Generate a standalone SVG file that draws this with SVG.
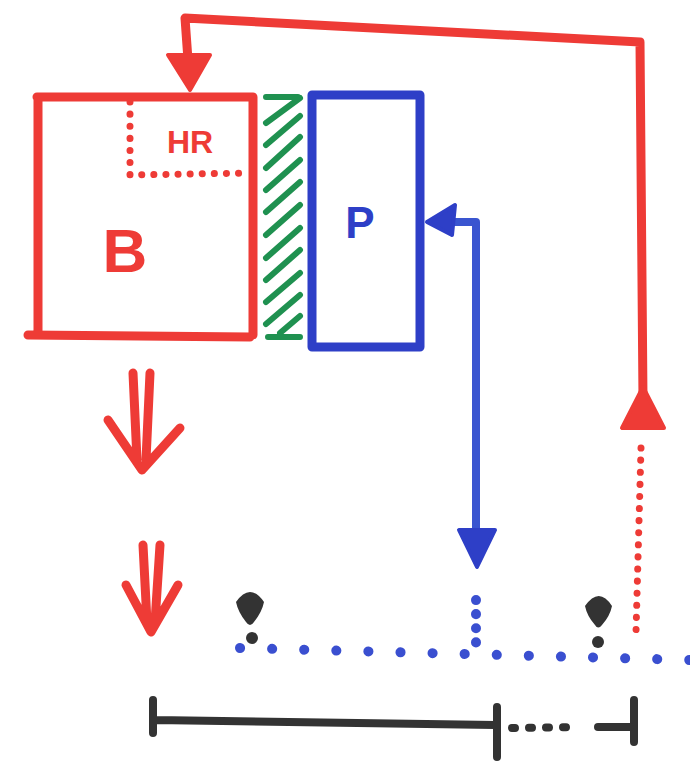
<svg xmlns="http://www.w3.org/2000/svg" width="690" height="762" viewBox="0 0 690 762">
<style>
.red{stroke:#ee3b36;fill:none;stroke-width:9;stroke-linecap:round;stroke-linejoin:round}
.blue{stroke:#2e3fc7;fill:none;stroke-width:9;stroke-linecap:round;stroke-linejoin:round}
.green{stroke:#1f9150;fill:none;stroke-width:6;stroke-linecap:round}
.blk{stroke:#333;fill:none;stroke-width:8;stroke-linecap:round}
.rdot{stroke:#ee3b36;fill:none;stroke-width:7;stroke-linecap:round;stroke-dasharray:0.1 12}
.bdot{stroke:#3a4fd0;fill:none;stroke-width:10;stroke-linecap:round;stroke-dasharray:0.1 32}
.lbl{font-family:"Liberation Sans",Arial,sans-serif;font-weight:bold;text-anchor:middle}
</style>
<rect width="690" height="762" fill="#fff"/>
<g id="connectors">
  <path class="red" d="M643,400 L640,42 L185,18 L188,60"/>
  <polygon points="168,55 210,55 190,90" fill="#ee3b36" stroke="#ee3b36" stroke-width="4" stroke-linejoin="round"/>
  <polygon points="643,387 622,428 664,428" fill="#ee3b36" stroke="#ee3b36" stroke-width="4" stroke-linejoin="round"/>
  <path class="rdot" d="M641,448 L636,632"/>
  <path class="blue" d="M440,222 L476,222 L476,530" style="stroke:#3a55d0;stroke-width:8"/>
  <polygon points="427,222 455,205 452,235" fill="#2e3fc7" stroke="#2e3fc7" stroke-width="4" stroke-linejoin="round"/>
  <polygon points="459,530 495,530 477,567" fill="#2e3fc7" stroke="#2e3fc7" stroke-width="4" stroke-linejoin="round"/>
  <path class="bdot" d="M240,648 L690,660"/>
  <path class="bdot" d="M476,600 L476,645" style="stroke-dasharray:0.1 14"/>
</g>
<g id="B">
  <path class="red" d="M38,98 L38,330 M28,335 L250,337 M37,97 L253,97 L253,335"/>
  <path class="rdot" d="M130,102 L130,175 L250,173"/>
  <text class="lbl" x="190" y="153" font-size="32" fill="#ee3b36">HR</text>
  <text class="lbl" x="125" y="272" font-size="62" fill="#ee3b36">B</text>
</g>
<g id="hatch">
  <path class="green" d="M266,97 L298,97 M268,337 L300,337 M266,123 L300,98 M266,145 L300,116 M266,168 L300,137 M266,190 L300,160 M266,212 L300,182 M266,235 L300,205 M266,258 L300,228 M266,280 L300,250 M266,302 L300,273 M266,324 L300,295 M280,333 L300,316"/>
</g>
<g id="P">
  <rect class="blue" x="312" y="95" width="108" height="252"/>
  <text class="lbl" x="360" y="238" font-size="44" fill="#2e3fc7">P</text>
</g>
<g id="arrows">
  <path class="red" d="M133,373 L137,460 M150,373 L146,460 M108,420 L142,470 L180,428"/>
  <path class="red" d="M143,545 L147,622 M160,545 L155,622 M126,585 L151,632 L178,585"/>
</g>
<g id="markers">
  <path d="M236,602 Q250,582 264,602 Q262,612 254,622 Q250,628 246,622 Q238,612 236,602 Z" fill="#333"/>
  <circle cx="252" cy="638" r="6" fill="#333"/>
  <path d="M585,606 Q599,586 612,606 Q610,616 602,625 Q598,630 595,625 Q587,616 585,606 Z" fill="#333"/>
  <circle cx="598" cy="642" r="6" fill="#333"/>
</g>
<g id="scale">
  <path class="blk" d="M155,720 L495,725 M153,700 L153,733 M497,707 L497,757 M634,700 L634,742"/>
  <path class="blk" d="M512,728 L575,727" style="stroke-dasharray:3 14" stroke-width="7"/>
  <path class="blk" d="M598,727 L630,727" stroke-width="8"/>
</g>
</svg>
